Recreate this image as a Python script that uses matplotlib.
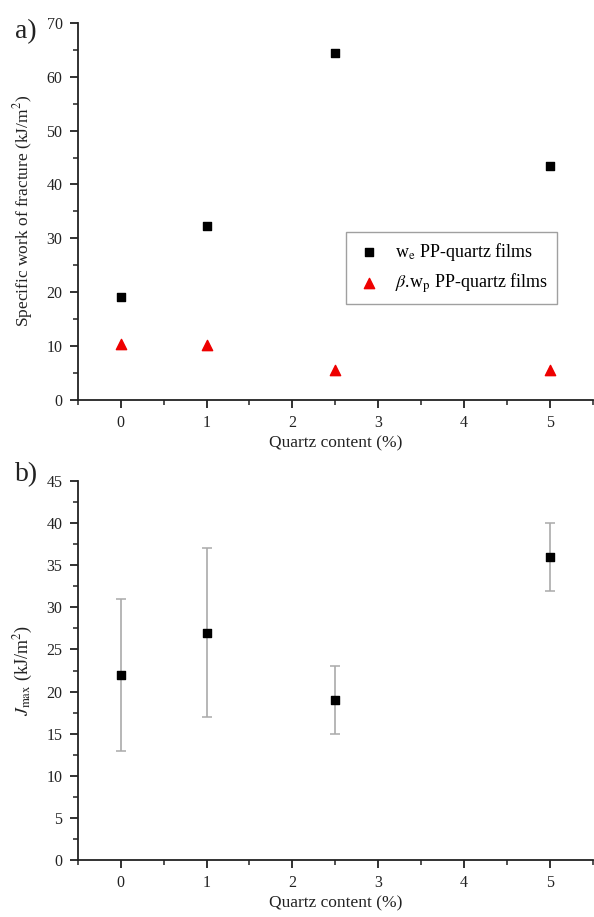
import matplotlib
matplotlib.use("Agg")
import matplotlib.pyplot as plt
import numpy as np

plt.rcParams['font.family'] = ['Liberation Serif', 'DejaVu Serif']
plt.rcParams['mathtext.fontset'] = 'stix'

# panel a data
quartz = [0, 1, 2.5, 5]
we_vals = [19.1, 32.3, 64.5, 43.5]
bwp_vals = [10.3, 10.2, 5.5, 5.5]

# panel b data
jmax = [22, 27, 19, 36]
jmax_lo = [13, 17, 15, 32]
jmax_hi = [31, 37, 23, 40]

fig = plt.figure(figsize=(5.94, 9.17), dpi=100)
ax1 = fig.add_axes([0.131, 0.564, 0.867, 0.411])
ax2 = fig.add_axes([0.131, 0.062, 0.867, 0.4135])

def style(ax, ymax, ymaj, ymin):
    for s in ['top', 'right']:
        ax.spines[s].set_visible(False)
    for s in ['left', 'bottom']:
        ax.spines[s].set_linewidth(1.3)
        ax.spines[s].set_color('#222222')
    ax.set_xlim(-0.5, 5.5)
    ax.set_ylim(0, ymax)
    ax.set_xticks(np.arange(0, 6, 1))
    ax.set_xticks(np.arange(-0.5, 5.6, 0.5), minor=True)
    ax.set_yticks(np.arange(0, ymax + 0.1, ymaj))
    ax.set_yticks(np.arange(0, ymax + 0.1, ymin), minor=True)
    ax.tick_params(which='major', direction='out', length=6, width=1.3, labelsize=11.5,
                   colors='#222222', pad=5)
    ax.tick_params(which='minor', direction='out', length=3.5, width=1.1, colors='#222222')
    ax.set_xlabel('Quartz content (%)', fontsize=12.5, color='#222222', labelpad=3)

style(ax1, 70, 10, 5)
ax1.scatter(quartz, we_vals, marker='s', s=40, color='black', label=r'w$_{\mathrm{e}}$ PP-quartz films', zorder=3)
ax1.scatter(quartz, bwp_vals, marker='^', s=55, color='#ee0000', label=r'$\beta$.w$_{\mathrm{p}}$ PP-quartz films', zorder=3)
ax1.set_ylabel(r'Specific work of fracture (kJ/m$^2$)', fontsize=12.5, color='#222222', labelpad=8)
leg = ax1.legend(loc='upper left', bbox_to_anchor=(0.503, 0.47), fontsize=13, frameon=True,
                 fancybox=False, edgecolor='#888888', handletextpad=0.6, borderpad=0.5,
                 labelspacing=0.5, scatterpoints=1, handlelength=1.6)
leg.get_frame().set_linewidth(1.0)

style(ax2, 45, 5, 2.5)
yerr = [np.array(jmax) - np.array(jmax_lo), np.array(jmax_hi) - np.array(jmax)]
ax2.errorbar(quartz, jmax, yerr=yerr, fmt='none', ecolor='#aaaaaa', elinewidth=1.2, capsize=3.5, capthick=1.1, zorder=2)
ax2.scatter(quartz, jmax, marker='s', s=40, color='black', zorder=3)
ax2.set_ylabel(r'$J_{\mathrm{max}}$ (kJ/m$^2$)', fontsize=13, color='#222222', labelpad=8)

fig.text(0.025, 0.958, 'a)', fontsize=20, color='#222222')
fig.text(0.025, 0.475, 'b)', fontsize=20, color='#222222')

fig.savefig('out.png', dpi=100)
